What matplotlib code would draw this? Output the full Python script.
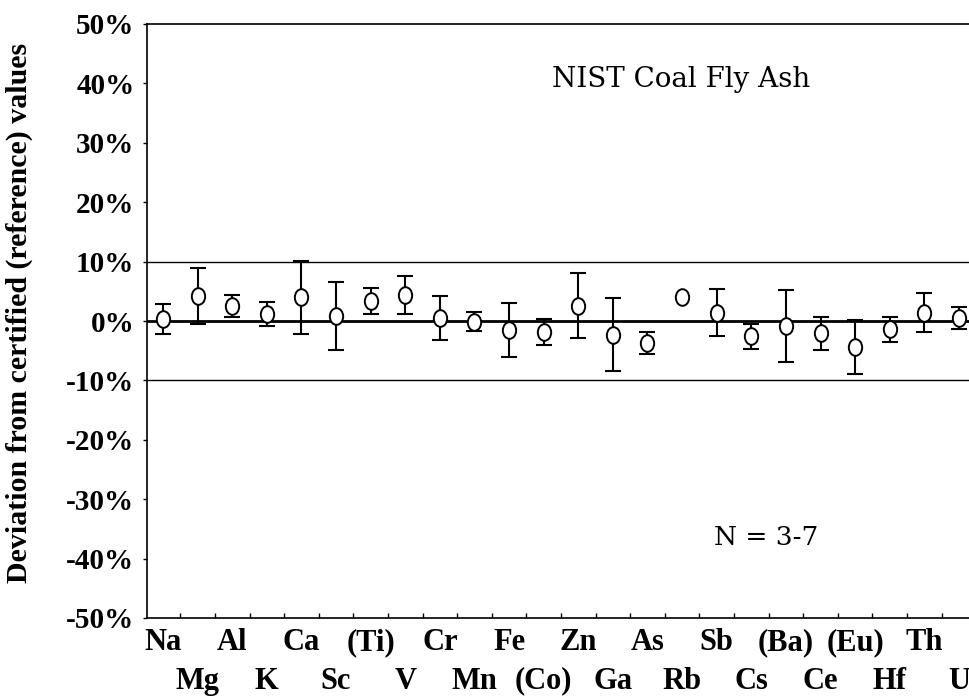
import numpy as np
import matplotlib
matplotlib.use("Agg")
import matplotlib.pyplot as plt
from matplotlib.path import Path
from matplotlib.transforms import Affine2D

# Elements measured in the NIST coal fly ash standard
elements = ["Na", "Mg", "Al", "K", "Ca", "Sc", "(Ti)", "V", "Cr", "Mn", "Fe", "(Co)",
            "Zn", "Ga", "As", "Rb", "Sb", "Cs", "(Ba)", "Ce", "(Eu)", "Hf", "Th", "U"]

# Mean deviation from certified (reference) values, in percent
deviation = [0.3, 4.2, 2.5, 1.2, 4.0, 0.9, 3.4, 4.3, 0.5, -0.1, -1.5, -1.9,
             2.6, -2.3, -3.7, 4.0, 1.4, -2.6, -0.8, -2.1, -4.4, -1.4, 1.4, 0.5]

# Half-width of the error bars, in percent (Rb has none)
error = [2.55, 4.65, 1.8, 2.0, 6.15, 5.7, 2.2, 3.2, 3.75, 1.6, 4.55, 2.2,
         5.5, 6.2, 1.9, np.nan, 3.95, 2.05, 6.1, 2.75, 4.5, 2.15, 3.3, 1.85]

y_ticks = [-50, -40, -30, -20, -10, 0, 10, 20, 30, 40, 50]
y_tick_labels = [f"{v}%" for v in y_ticks]

title_text = "NIST Coal Fly Ash"
n_text = "N = 3-7"
y_label = "Deviation from certified (reference) values"

bold_serif = "Liberation Serif"
plain_serif = "DejaVu Serif"

x = np.arange(len(elements))
dev = np.asarray(deviation, dtype=float)
err = np.asarray(error, dtype=float)

fig = plt.figure(figsize=(9.70, 6.97), dpi=100)
ax = fig.add_axes([147 / 970, 79 / 697, 823 / 970, 594 / 697])

# Slightly tall open ellipse marker
ellipse = Path.unit_circle().transformed(Affine2D().scale(0.8, 1.0))

ax.set_xlim(-0.463, 23.32)
ax.set_ylim(-50, 50)

# Reference lines: zero and the +/-10 % band
ax.axhline(0, color="black", lw=2.0, zorder=1)
for lvl in (10, -10):
    ax.axhline(lvl, color="black", lw=1.0, zorder=1)

has_err = ~np.isnan(err)
ax.errorbar(x[has_err], dev[has_err], yerr=err[has_err], fmt="none",
            ecolor="black", elinewidth=1.5, capsize=6, capthick=1.5, zorder=2)
ax.plot(x, dev, linestyle="none", marker=ellipse, markersize=12,
        markerfacecolor="white", markeredgecolor="black", markeredgewidth=1.4,
        zorder=3)

# Spines
for side in ("left", "bottom", "top"):
    ax.spines[side].set_linewidth(1.2)
ax.spines["right"].set_visible(False)

# Y axis
ax.set_yticks(y_ticks)
ax.set_yticklabels(y_tick_labels, fontfamily=bold_serif, fontweight="bold",
                   fontsize=21)
ax.tick_params(axis="y", direction="out", length=3, width=1.0, pad=6)
ax.set_ylabel(y_label, fontfamily=bold_serif, fontweight="bold", fontsize=21.5)
ax.yaxis.set_label_coords(-0.138, 0.514)

# X axis: labels at category centres in two staggered rows,
# small inward ticks on the category boundaries
ax.set_xticks(x)
ax.set_xticklabels(elements, fontfamily=bold_serif, fontweight="bold",
                   fontsize=22)
ax.tick_params(axis="x", which="major", length=0)
for i, tick in enumerate(ax.xaxis.get_major_ticks()):
    tick.set_pad(7 if i % 2 == 0 else 35)
ax.set_xticks(x[:-1] + 0.5, minor=True)
ax.tick_params(axis="x", which="minor", direction="in", length=3.5, width=1.0)

# Annotations
ax.text(0.6495, 0.907, title_text, transform=ax.transAxes, ha="center",
        va="center", fontfamily=plain_serif, fontsize=20)
ax.text(0.7522, 0.1347, n_text, transform=ax.transAxes, ha="center",
        va="center", fontfamily=plain_serif, fontsize=19)

fig.savefig("out.png", dpi=100)
